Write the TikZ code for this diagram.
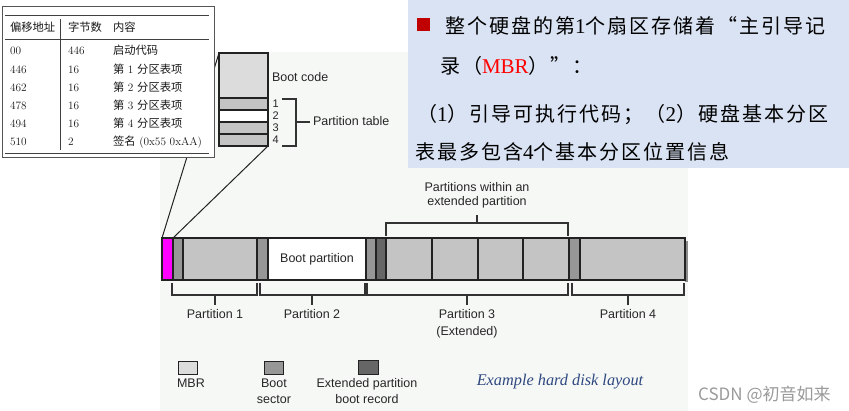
\documentclass[tikz,border=0pt]{standalone}
\usepackage{fontspec}
\newfontfamily\arialf{Liberation Sans}
\newfontfamily\tnrf{Liberation Serif}
\newfontfamily\cjkf{Noto Sans CJK SC}
\newfontfamily\cjkpf[LetterSpace=10]{Noto Sans CJK SC}
\definecolor{mbrmag}{HTML}{FF00FF}
\definecolor{mbrlight}{HTML}{DCDCDC}
\definecolor{bootgray}{HTML}{979797}
\definecolor{partgray}{HTML}{C4C4C4}
\definecolor{ebrdark}{HTML}{666666}
\definecolor{segline}{HTML}{222222}
\definecolor{figbg}{HTML}{F6F8F6}
\definecolor{panelblue}{HTML}{DAE3F3}
\definecolor{bulletred}{HTML}{C00000}
\definecolor{tabframe}{HTML}{555555}
\definecolor{capblue}{RGB}{47,72,128}
\definecolor{wmgray}{HTML}{9A9A9A}
\tikzset{
  seg/.style={draw=segline, line width=1.2pt, inner sep=0pt, outer sep=0pt, minimum height=42pt, anchor=north west},
  sqr/.style={draw=segline, line width=1pt, inner sep=0pt, outer sep=0pt, anchor=north west},
  lbl/.style={inner sep=0pt, outer sep=0pt, font=\arialf\fontsize{12.5}{14}\selectfont, text=black!85},
  brk/.style={draw=black!80, line width=1.1pt},
  zoomline/.style={draw=segline, line width=1pt},
  tabtxt/.style={inner sep=0pt, outer sep=0pt, anchor=base west, font=\fontsize{11.3}{13}\selectfont, text=black!90},
  ptxt/.style={inner sep=0pt, outer sep=0pt, anchor=base west, font=\fontsize{20}{24}\selectfont},
}
\begin{document}
\begin{tikzpicture}[x=1pt,y=-1pt]
\useasboundingbox (0,0) rectangle (849,411);
\fill[white] (0,0) rectangle (849,411);
\fill[figbg] (160,52) rectangle (688,411);

% disk bar
\fill[black!45] (685,241) rectangle (688,282);
\node[seg, fill=mbrmag, minimum width=11pt] (mbr) at (162,238) {};
\node[seg, fill=bootgray, minimum width=10pt] (bs1) at (173,238) {};
\node[seg, fill=partgray, minimum width=74pt] (p1) at (183,238) {};
\node[seg, fill=bootgray, minimum width=11pt] (bs2) at (257,238) {};
\node[seg, fill=white, minimum width=98pt, lbl] (p2) at (268,238) {Boot partition};
\node[seg, fill=bootgray, minimum width=10pt] (bs3) at (366,238) {};
\node[seg, fill=ebrdark, minimum width=10pt] (ebr) at (376,238) {};
\node[seg, fill=partgray, minimum width=46pt] (l1) at (386,238) {};
\node[seg, fill=partgray, minimum width=46pt] (l2) at (432,238) {};
\node[seg, fill=partgray, minimum width=45pt] (l3) at (478,238) {};
\node[seg, fill=partgray, minimum width=46pt] (l4) at (523,238) {};
\node[seg, fill=bootgray, minimum width=11pt] (bs4) at (569,238) {};
\node[seg, fill=partgray, minimum width=105pt] (p4) at (580,238) {};

% brackets below
\draw[brk] (172,283) |- (257,295) -- (257,283) (215,295) -- (215,305);
\draw[brk] (260,283) |- (365,295) -- (365,283) (312,295) -- (312,305);
\draw[brk] (367,283) |- (568,295) -- (568,283) (467,295) -- (467,305);
\draw[brk] (572,283) |- (684,295) -- (684,283) (628,295) -- (628,305);
\node[lbl, anchor=base] (lp1) at (215,319) {Partition 1};
\node[lbl, anchor=base] (lp2) at (312,319) {Partition 2};
\node[lbl, anchor=base] (lp3) at (467,319) {Partition 3};
\node[lbl, anchor=base] (lp3b) at (467,335.5) {(Extended)};
\node[lbl, anchor=base] (lp4) at (628,319) {Partition 4};

% bracket above
\draw[brk] (386,236) |- (568,223) -- (568,236) (477,223) -- (477,215);
\node[lbl, anchor=base] (pw1) at (477,192) {Partitions within an};
\node[lbl, anchor=base] (pw2) at (477,206) {extended partition};

% boot sector detail
\node[sqr, line width=1.4pt, fill=mbrlight, minimum width=49pt, minimum height=45pt] (bc) at (219,53) {};
\node[sqr, line width=1.4pt, fill=partgray, minimum width=49pt, minimum height=12pt] (r1) at (219,98) {};
\node[sqr, line width=1.4pt, fill=white, minimum width=49pt, minimum height=12pt] (r2) at (219,110) {};
\node[sqr, line width=1.4pt, fill=partgray, minimum width=49pt, minimum height=12pt] (r3) at (219,122) {};
\node[sqr, line width=1.4pt, fill=partgray, minimum width=49pt, minimum height=12pt] (r4) at (219,134) {};
\node[lbl, anchor=base west] (bclbl) at (272,82) {Boot code};
\node[lbl, anchor=base west, font=\arialf\fontsize{11}{12}\selectfont] (n1) at (272.5,108) {1};
\node[lbl, anchor=base west, font=\arialf\fontsize{11}{12}\selectfont] (n2) at (272.5,120) {2};
\node[lbl, anchor=base west, font=\arialf\fontsize{11}{12}\selectfont] (n3) at (272.5,132) {3};
\node[lbl, anchor=base west, font=\arialf\fontsize{11}{12}\selectfont] (n4) at (272.5,144) {4};
\draw[brk] (282,99) -| (296,146) -- (282,146) (296,122) -- (310,122);
\node[lbl, anchor=base west] (ptlbl) at (313,126) {Partition table};

% zoom lines
\draw[zoomline] (mbr.north west) -- (bc.north west);
\draw[zoomline] (mbr.north east) -- (r4.south east);

% legend
\node[sqr, fill=mbrlight, minimum width=19pt, minimum height=13pt] (lgm) at (178,362) {};
\node[sqr, fill=bootgray, minimum width=19pt, minimum height=13pt] (lgb) at (264,362) {};
\node[sqr, fill=ebrdark, minimum width=20pt, minimum height=14pt] (lge) at (358,361) {};
\node[lbl, anchor=base west] (lgm1) at (177,388) {MBR};
\node[lbl, anchor=base] (lgb1) at (274,388) {Boot};
\node[lbl, anchor=base] (lgb2) at (274,403.5) {sector};
\node[lbl, anchor=base] (lge1) at (367,388) {Extended partition};
\node[lbl, anchor=base] (lge2) at (367,403.5) {boot record};
\node[inner sep=0pt, anchor=base, text=capblue, font=\tnrf\itshape\fontsize{16.3}{18}\selectfont] (cap) at (560,386) {Example hard disk layout};

% table overlay
\node[draw=tabframe, line width=1pt, fill=white, inner sep=0pt, anchor=north west, minimum width=212pt, minimum height=151pt] (tab) at (2,6) {};
\draw[black!75, line width=0.8pt] (5,15) -- (209,15);
\draw[black!75, line width=0.6pt] (5,39) -- (209,39);
\draw[black!75, line width=0.8pt] (5,153) -- (209,153);
\draw[black!75, line width=0.6pt] (60,19) -- (60,150);
\node[tabtxt] (h1) at (10,32) {\cjkf 偏移地址};
\node[tabtxt] (h2) at (68,32) {\cjkf 字节数};
\node[tabtxt] (h3) at (113,32) {\cjkf 内容};
\node[tabtxt] (a1) at (10,55) {00};
\node[tabtxt] (b1) at (68,55) {446};
\node[tabtxt] (c1) at (113,55) {\cjkf 启动代码};
\node[tabtxt] (a2) at (10,73.2) {446};
\node[tabtxt] (b2) at (68,73.2) {16};
\node[tabtxt] (c2) at (113,73.2) {{\cjkf 第} 1 {\cjkf 分区表项}};
\node[tabtxt] (a3) at (10,91.4) {462};
\node[tabtxt] (b3) at (68,91.4) {16};
\node[tabtxt] (c3) at (113,91.4) {{\cjkf 第} 2 {\cjkf 分区表项}};
\node[tabtxt] (a4) at (10,109.6) {478};
\node[tabtxt] (b4) at (68,109.6) {16};
\node[tabtxt] (c4) at (113,109.6) {{\cjkf 第} 3 {\cjkf 分区表项}};
\node[tabtxt] (a5) at (10,127.8) {494};
\node[tabtxt] (b5) at (68,127.8) {16};
\node[tabtxt] (c5) at (113,127.8) {{\cjkf 第} 4 {\cjkf 分区表项}};
\node[tabtxt] (a6) at (10,146) {510};
\node[tabtxt] (b6) at (68,146) {2};
\node[tabtxt] (c6) at (113,146) {{\cjkf 签名} (0x55 0xAA)};

% right panel
\node[fill=panelblue, inner sep=0pt, anchor=north west, minimum width=441pt, minimum height=168pt] (panel) at (408,0) {};
\node[fill=bulletred, inner sep=0pt, anchor=north west, minimum size=13pt] (bullet) at (417,18) {};
\node[ptxt] (t1) at (445,33.6) {{\cjkpf 整个硬盘的第}{\tnrf\fontsize{21}{24}\selectfont 1}{\cjkpf 个扇区存储着“主引导记}};
\node[ptxt] (t2) at (440,73.6) {{\cjkpf 录（}{\tnrf\fontsize{21}{24}\selectfont\color{red}MBR}{\cjkpf ）”：}};
\node[ptxt] (t3) at (417,121.6) {{\cjkpf （}{\tnrf\fontsize{21}{24}\selectfont 1}{\cjkpf ）引导可执行代码；（}{\tnrf\fontsize{21}{24}\selectfont 2}{\cjkpf ）硬盘基本分区}};
\node[ptxt] (t4) at (415,159.6) {{\cjkpf 表最多包含}{\tnrf\fontsize{21}{24}\selectfont 4}{\cjkpf 个基本分区位置信息}};

% watermark
\node[inner sep=0pt, anchor=base west, text=wmgray, font=\cjkf\fontsize{17}{19}\selectfont] (wm) at (698,401) {CSDN @初音如来};
\end{tikzpicture}
\end{document}
